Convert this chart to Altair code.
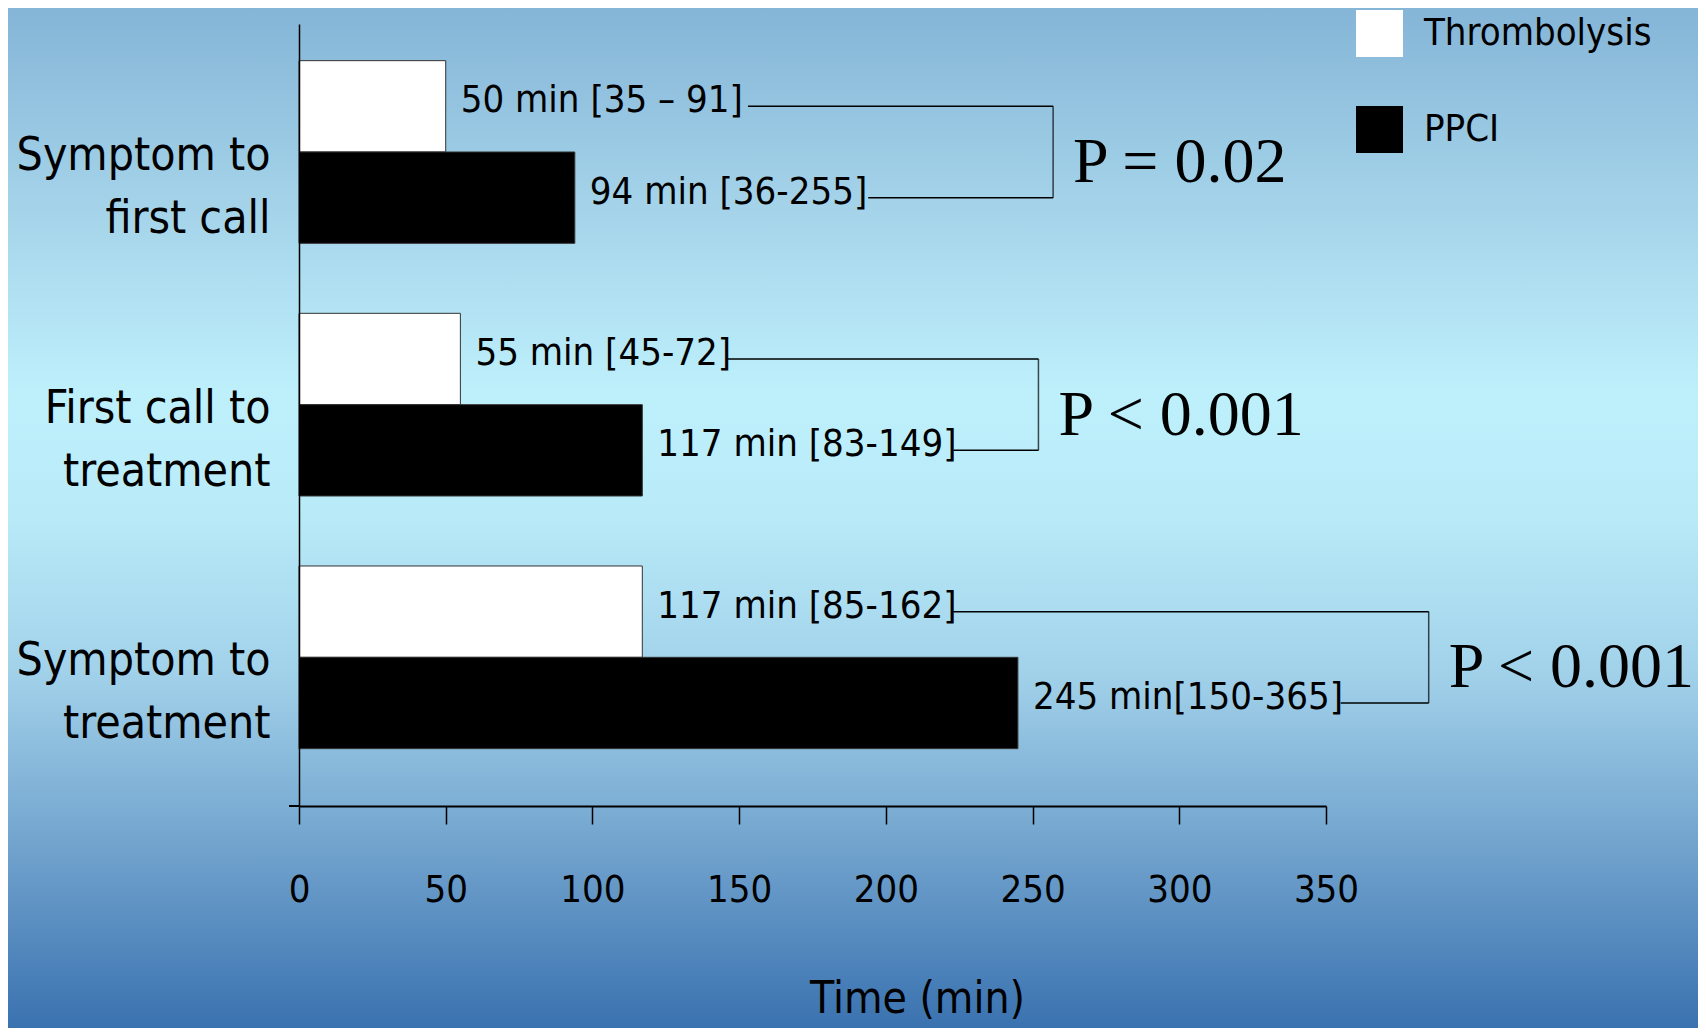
import altair as alt
import pandas as pd

# ---- data ----
categories = ["Symptom to\nfirst call", "First call to\ntreatment", "Symptom to\ntreatment"]
groups = ["Thrombolysis", "PPCI"]
thrombolysis = [50, 55, 117]
ppci = [94, 117, 245]
thromb_labels = ["50 min [35 \u2013 91]", "55 min [45-72]", "117 min [85-162]"]
ppci_labels = ["94 min [36-255]", "117 min [83-149]", "245 min[150-365]"]
p_values = ["P = 0.02", "P < 0.001", "P < 0.001"]
bracket_x = [257, 252, 385]          # x (min) of the vertical bracket line
thromb_line_start = [153, 146, 223]  # where the connector leaves the upper label
ppci_line_start = [194, 223, 355]    # where the connector leaves the lower label
x_ticks = [0, 50, 100, 150, 200, 250, 300, 350]

SANS = "Liberation Sans Narrow, DejaVu Sans Condensed, sans-serif"
SERIF = "Liberation Serif, serif"

rows = []
for i, c in enumerate(categories):
    rows.append(dict(cat=c, group=groups[0], value=thrombolysis[i], label=thromb_labels[i],
                     start=thromb_line_start[i], bracket=bracket_x[i]))
    rows.append(dict(cat=c, group=groups[1], value=ppci[i], label=ppci_labels[i],
                     start=ppci_line_start[i], bracket=bracket_x[i]))
df = pd.DataFrame(rows)
pdf = pd.DataFrame(dict(cat=categories, bracket=bracket_x, p=p_values))

W, H = 1027, 782
PAD = {"left": 291, "top": 16, "right": 372, "bottom": 222}

yscale = alt.Scale(paddingInner=0.277, paddingOuter=0.186, align=0.39)
y_enc = alt.Y("cat:N", sort=categories, scale=yscale,
              axis=alt.Axis(title=None, ticks=False, domainColor="black", domainWidth=1.5,
                            labelExpr="split(datum.value, '\\n')", labelAlign="right",
                            labelBaseline="middle", labelLineHeight=63, labelOffset=4,
                            labelPadding=29, labelFontSize=46, labelFont=SANS,
                            labelColor="black", labelLimit=0, zindex=1))
x_scale = alt.Scale(domain=[0, 350], nice=False, zero=True)
x_axis = alt.Axis(values=x_ticks, tickSize=18, tickColor="black", tickWidth=1.5,
                  domainColor="black", domainWidth=2, labelFontSize=38, labelFont=SANS,
                  labelColor="black", labelPadding=66, labelBaseline="middle", labelFlush=False,
                  grid=False, title="Time (min)", titleFont=SANS, titleFontSize=44,
                  titleFontWeight="normal", titleColor="black", titleX=618, titleY=193,
                  titleBaseline="middle", titleAlign="center", zindex=1)
yoff = alt.YOffset("group:N", sort=groups, scale=alt.Scale(paddingInner=0))

gradient = alt.Gradient(
    gradient="linear", x1=0, y1=0, x2=0, y2=1,
    stops=[
        alt.GradientStop(offset=0.0, color="#85b5d7"),
        alt.GradientStop(offset=0.2, color="#a5d4ea"),
        alt.GradientStop(offset=0.38, color="#bef0fc"),
        alt.GradientStop(offset=0.5, color="#b8eaf8"),
        alt.GradientStop(offset=0.65, color="#a2d2ea"),
        alt.GradientStop(offset=0.8, color="#78a9d1"),
        alt.GradientStop(offset=1.0, color="#3a72b0"),
    ])

bg = alt.Chart(pd.DataFrame({"bg": [0]})).mark_rect(fill=gradient).encode(
    x=alt.value(-PAD["left"]), x2=alt.value(W + PAD["right"]),
    y=alt.value(-PAD["top"]), y2=alt.value(H + PAD["bottom"]))

base = alt.Chart(df)

bars = base.mark_bar(stroke="#333333", strokeWidth=1).encode(
    x=alt.X("value:Q", scale=x_scale, axis=x_axis),
    y=y_enc,
    yOffset=yoff,
    fill=alt.Fill("group:N", sort=groups,
                  scale=alt.Scale(domain=groups, range=["white", "black"]),
                  legend=alt.Legend(orient="none", legendX=1057, legendY=-14, title=None,
                                    symbolType="square", symbolSize=2209, symbolStrokeWidth=0,
                                    symbolOpacity=1, labelFontSize=38, labelFont=SANS,
                                    labelColor="black", labelOffset=21, rowPadding=49,
                                    padding=0, labelLimit=0)),
)

labels = base.mark_text(align="left", baseline="middle", dx=15, dy=-5, fontSize=38,
                        font=SANS, color="black").encode(
    x="value:Q", y=alt.Y("cat:N", sort=categories), yOffset=yoff, text="label:N")

connectors = base.mark_bar(height=1.5, color="black").encode(
    x="start:Q", x2="bracket:Q", y=alt.Y("cat:N", sort=categories), yOffset=yoff)

vbracket = alt.Chart(pdf).mark_tick(thickness=1.5, size=91.5, color="black").encode(
    x="bracket:Q", y=alt.Y("cat:N", sort=categories))

ptext = alt.Chart(pdf).mark_text(align="left", baseline="middle", dx=20, dy=11, fontSize=64,
                                 font=SERIF, color="black").encode(
    x="bracket:Q", y=alt.Y("cat:N", sort=categories), text="p:N")

axis_ext = alt.Chart(pd.DataFrame({"bg": [0]})).mark_rule(strokeWidth=2, color="black").encode(
    x=alt.datum(-3.4), x2=alt.datum(0), y=alt.value(H))

chart = alt.layer(bg, bars, labels, connectors, vbracket, ptext, axis_ext).properties(
    width=W, height=H, padding=PAD,
    autosize=alt.AutoSizeParams(type="none"),
    background="#a9d9ee",
).configure_view(strokeWidth=0)

chart.save("out.html", embed_options={"renderer": "svg", "actions": False})
